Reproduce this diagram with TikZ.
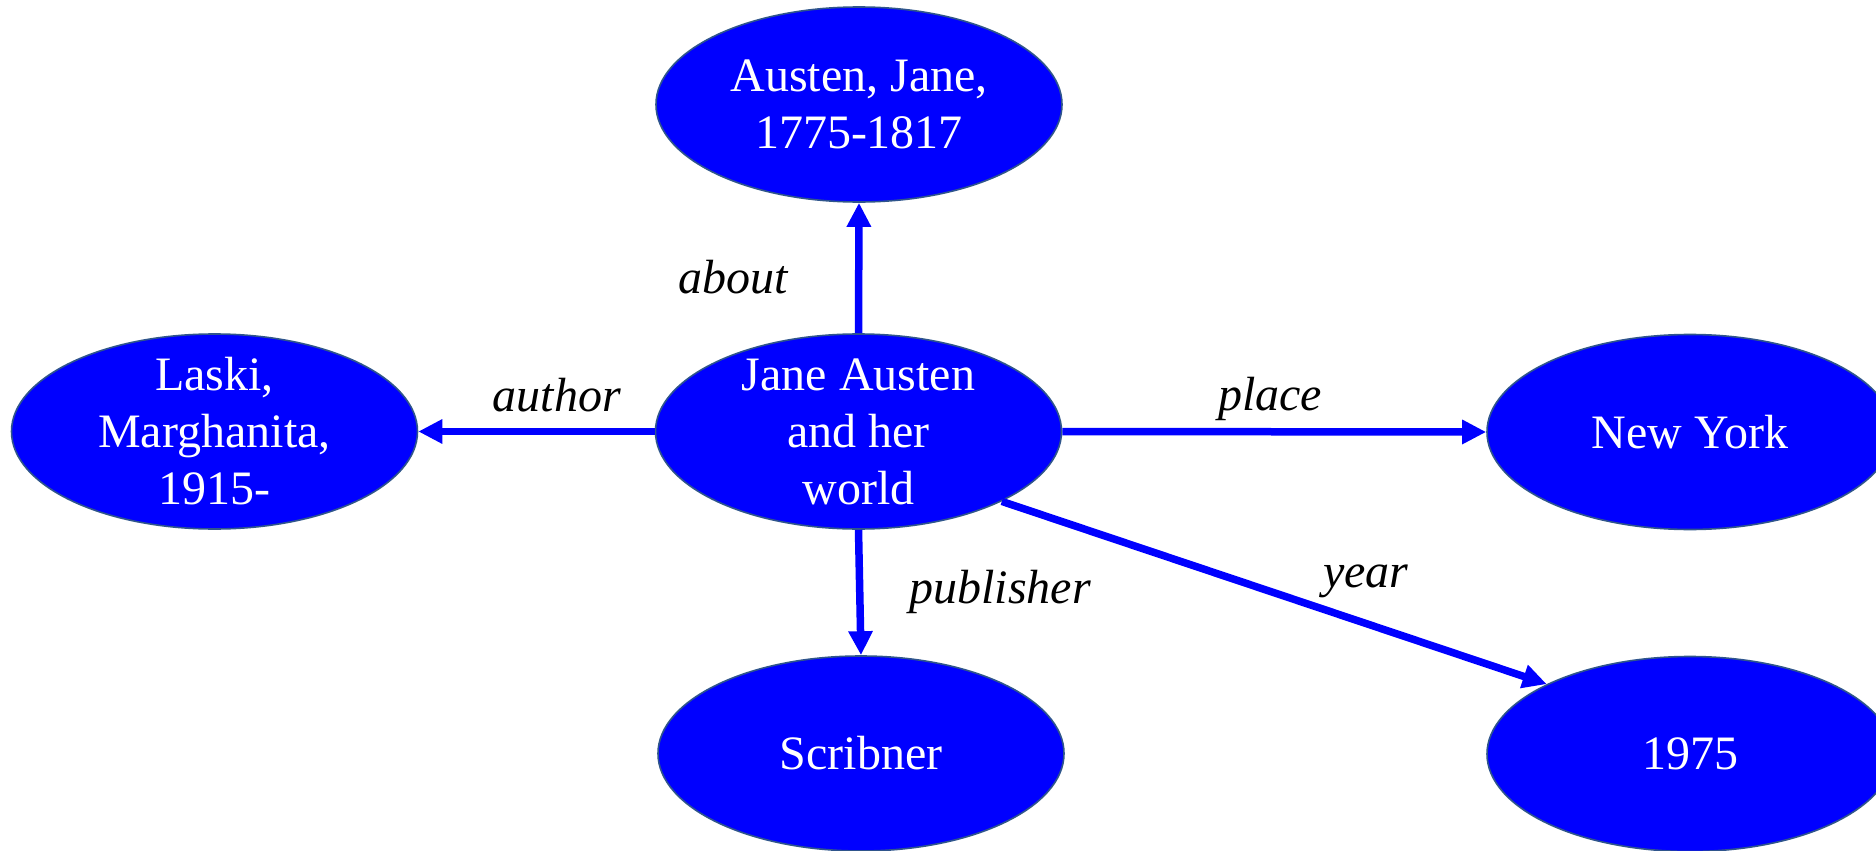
\documentclass[tikz,border=0pt]{standalone}
\usepackage{fontspec}
\setmainfont{Liberation Serif}
\usetikzlibrary{shapes.geometric,arrows.meta}
\definecolor{nodeblue}{RGB}{0,0,255}
\definecolor{rimblue}{RGB}{47,85,140}
\tikzset{
  topic/.style={ellipse, fill=nodeblue, draw=rimblue, line width=0.8pt,
    minimum width=203pt, minimum height=97.5pt, inner xsep=0pt, inner ysep=-12pt,
    text=white, align=center, font=\fontsize{24}{28.5}\selectfont},
  rel/.style={draw=nodeblue, line width=3.75pt,
    -{Triangle[length=12pt,width=11.5pt]}},
  lab/.style={font=\fontsize{24}{28.5}\selectfont\itshape, text=black, anchor=base, inner sep=0pt}
}
\begin{document}
\begin{tikzpicture}[x=0.5pt,y=-0.5pt]
\useasboundingbox (0,0) rectangle (1876,851);
\clip (0,0) rectangle (1876,851);
\fill[white] (0,0) rectangle (1876,851);
\node[topic] (c) at (858.5,431.5) {Jane Austen\\and her\\world};
\node[topic] (a) at (859,104.5) {Austen, Jane,\\1775-1817};
\node[topic] (l) at (214.5,431.5) {Laski,\\Marghanita,\\1915-};
\node[topic] (n) at (1690,432) {New York};
\node[topic] (s) at (861,753.5) {Scribner};
\node[topic] (y) at (1690,754) {1975};
\draw[rel] (c.north) -- (a.south);
\draw[rel] (c.west) -- (l.east);
\draw[rel] (c.east) -- (n.west);
\draw[rel] (c.south) -- (s.north);
\draw[rel] (c.-26) -- (y.154);
\node[lab] (tabout) at (733,293) {about};
\node[lab] (tauthor) at (557,411) {author};
\node[lab] (tplace) at (1270,410) {place};
\node[lab] (tpub) at (1000,603) {publisher};
\node[lab] (tyear) at (1366,587) {year};
\end{tikzpicture}
\end{document}
